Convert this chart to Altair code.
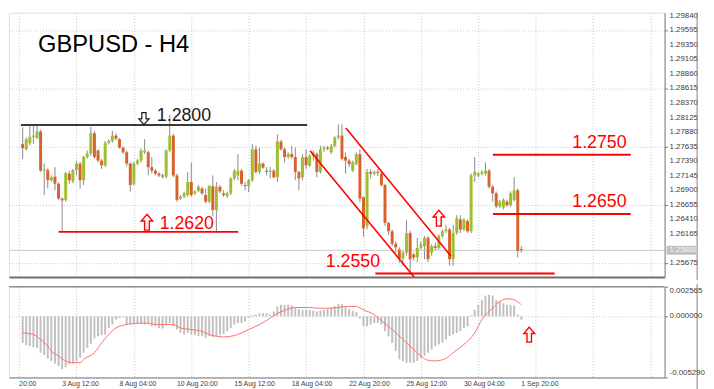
import altair as alt
import pandas as pd

# ---------------- data ----------------
opens = [1.2768, 1.2759, 1.2769, 1.2780, 1.2778, 1.2789, 1.2723, 1.2724, 1.2707, 1.2713,
         1.2701, 1.2676, 1.2674, 1.2718, 1.2705, 1.2724, 1.2735, 1.2707, 1.2746, 1.2752,
         1.2786, 1.2757, 1.2740, 1.2732, 1.2770, 1.2773, 1.2782, 1.2776, 1.2762, 1.2754,
         1.2735, 1.2701, 1.2735, 1.2740, 1.2754, 1.2754, 1.2729, 1.2723, 1.2718, 1.2715,
         1.2713, 1.2757, 1.2782, 1.2715, 1.2676, 1.2679, 1.2682, 1.2704, 1.2685, 1.2689,
         1.2693, 1.2682, 1.2671, 1.2697, 1.2657, 1.2696, 1.2685, 1.2680, 1.2685, 1.2710,
         1.2715, 1.2723, 1.2699, 1.2697, 1.2707, 1.2759, 1.2721, 1.2735, 1.2723, 1.2721,
         1.2723, 1.2712, 1.2772, 1.2759, 1.2746, 1.2751, 1.2746, 1.2721, 1.2712, 1.2746,
         1.2732, 1.2748, 1.2751, 1.2721, 1.2759, 1.2762, 1.2754, 1.2765, 1.2779, 1.2782,
         1.2746, 1.2740, 1.2723, 1.2734, 1.2751, 1.2678, 1.2630, 1.2721, 1.2718, 1.2721,
         1.2718, 1.2699, 1.2635, 1.2621, 1.2600, 1.2590, 1.2575, 1.2585, 1.2618, 1.2582,
         1.2577, 1.2593, 1.2596, 1.2610, 1.2585, 1.2596, 1.2593, 1.2613, 1.2621, 1.2624,
         1.2574, 1.2618, 1.2641, 1.2624, 1.2638, 1.2621, 1.2715, 1.2715, 1.2718, 1.2718,
         1.2723, 1.2696, 1.2685, 1.2663, 1.2661, 1.2671, 1.2665, 1.2674, 1.2690, 1.2591]
highs = [1.2796, 1.2779, 1.2798, 1.2801, 1.2801, 1.2792, 1.2735, 1.2727, 1.2715, 1.2729,
         1.2703, 1.2678, 1.2721, 1.2723, 1.2726, 1.2740, 1.2738, 1.2748, 1.2757, 1.2797,
         1.2790, 1.2759, 1.2743, 1.2773, 1.2776, 1.2790, 1.2786, 1.2778, 1.2764, 1.2757,
         1.2737, 1.2738, 1.2743, 1.2760, 1.2776, 1.2757, 1.2746, 1.2726, 1.2721, 1.2718,
         1.2759, 1.2817, 1.2785, 1.2718, 1.2682, 1.2688, 1.2721, 1.2737, 1.2690, 1.2699,
         1.2696, 1.2693, 1.2699, 1.2715, 1.2704, 1.2699, 1.2690, 1.2688, 1.2712, 1.2726,
         1.2751, 1.2726, 1.2704, 1.2709, 1.2768, 1.2765, 1.2762, 1.2737, 1.2729, 1.2729,
         1.2726, 1.2784, 1.2775, 1.2762, 1.2754, 1.2765, 1.2762, 1.2723, 1.2751, 1.2759,
         1.2751, 1.2757, 1.2754, 1.2765, 1.2765, 1.2765, 1.2768, 1.2781, 1.2801, 1.2801,
         1.2754, 1.2743, 1.2740, 1.2754, 1.2759, 1.2680, 1.2726, 1.2726, 1.2724, 1.2726,
         1.2723, 1.2701, 1.2637, 1.2624, 1.2604, 1.2594, 1.2588, 1.2640, 1.2622, 1.2585,
         1.2610, 1.2604, 1.2613, 1.2613, 1.2599, 1.2602, 1.2616, 1.2624, 1.2632, 1.2627,
         1.2632, 1.2648, 1.2648, 1.2643, 1.2641, 1.2718, 1.2746, 1.2721, 1.2724, 1.2737,
         1.2726, 1.2699, 1.2688, 1.2674, 1.2677, 1.2674, 1.2688, 1.2712, 1.2693, 1.2596]
lows = [1.2743, 1.2757, 1.2765, 1.2768, 1.2776, 1.2721, 1.2682, 1.2693, 1.2704, 1.2690,
        1.2674, 1.2621, 1.2671, 1.2701, 1.2702, 1.2715, 1.2693, 1.2699, 1.2743, 1.2748,
        1.2743, 1.2737, 1.2726, 1.2729, 1.2767, 1.2770, 1.2774, 1.2760, 1.2751, 1.2730,
        1.2688, 1.2698, 1.2732, 1.2737, 1.2751, 1.2715, 1.2718, 1.2715, 1.2712, 1.2710,
        1.2710, 1.2754, 1.2712, 1.2671, 1.2674, 1.2677, 1.2679, 1.2679, 1.2682, 1.2687,
        1.2682, 1.2668, 1.2668, 1.2646, 1.2618, 1.2685, 1.2679, 1.2677, 1.2682, 1.2707,
        1.2707, 1.2698, 1.2690, 1.2687, 1.2704, 1.2718, 1.2718, 1.2726, 1.2715, 1.2710,
        1.2710, 1.2704, 1.2757, 1.2737, 1.2743, 1.2743, 1.2707, 1.2690, 1.2707, 1.2726,
        1.2729, 1.2740, 1.2712, 1.2718, 1.2754, 1.2757, 1.2751, 1.2762, 1.2776, 1.2740,
        1.2718, 1.2729, 1.2721, 1.2732, 1.2670, 1.2612, 1.2624, 1.2710, 1.2715, 1.2714,
        1.2696, 1.2630, 1.2615, 1.2596, 1.2585, 1.2568, 1.2563, 1.2580, 1.2548, 1.2572,
        1.2569, 1.2590, 1.2574, 1.2569, 1.2580, 1.2588, 1.2590, 1.2610, 1.2618, 1.2563,
        1.2563, 1.2615, 1.2618, 1.2621, 1.2618, 1.2618, 1.2704, 1.2712, 1.2715, 1.2715,
        1.2693, 1.2671, 1.2660, 1.2660, 1.2658, 1.2662, 1.2662, 1.2671, 1.2577, 1.2585]
closes = [1.2761, 1.2776, 1.2780, 1.2782, 1.2789, 1.2723, 1.2725, 1.2707, 1.2712, 1.2701,
          1.2676, 1.2673, 1.2719, 1.2707, 1.2724, 1.2735, 1.2707, 1.2746, 1.2752, 1.2786,
          1.2746, 1.2740, 1.2732, 1.2770, 1.2773, 1.2782, 1.2777, 1.2762, 1.2754, 1.2735,
          1.2699, 1.2735, 1.2740, 1.2757, 1.2757, 1.2729, 1.2723, 1.2718, 1.2715, 1.2713,
          1.2757, 1.2782, 1.2715, 1.2674, 1.2679, 1.2685, 1.2704, 1.2682, 1.2688, 1.2696,
          1.2685, 1.2671, 1.2697, 1.2657, 1.2696, 1.2688, 1.2682, 1.2685, 1.2710, 1.2723,
          1.2723, 1.2701, 1.2697, 1.2707, 1.2759, 1.2721, 1.2735, 1.2728, 1.2721, 1.2723,
          1.2712, 1.2772, 1.2759, 1.2746, 1.2751, 1.2746, 1.2721, 1.2710, 1.2746, 1.2732,
          1.2748, 1.2754, 1.2721, 1.2759, 1.2762, 1.2760, 1.2765, 1.2779, 1.2782, 1.2743,
          1.2740, 1.2734, 1.2737, 1.2751, 1.2676, 1.2626, 1.2721, 1.2718, 1.2721, 1.2719,
          1.2699, 1.2635, 1.2621, 1.2600, 1.2594, 1.2575, 1.2585, 1.2618, 1.2574, 1.2577,
          1.2593, 1.2599, 1.2610, 1.2574, 1.2596, 1.2593, 1.2613, 1.2621, 1.2624, 1.2574,
          1.2618, 1.2643, 1.2624, 1.2641, 1.2621, 1.2715, 1.2721, 1.2718, 1.2721, 1.2723,
          1.2696, 1.2685, 1.2663, 1.2671, 1.2674, 1.2665, 1.2685, 1.2690, 1.2588, 1.2589]

macd_hist = [-0.00229, -0.00249, -0.00257, -0.00266, -0.00272, -0.00315, -0.00335, -0.00363, -0.00386, -0.00409,
             -0.00432, -0.00457, -0.00438, -0.00414, -0.00409, -0.00386, -0.00358, -0.00315, -0.00272, -0.00238,
             -0.00191, -0.00172, -0.00163, -0.00157, -0.00100, -0.00071, -0.00028, -0.00015, -0.00009, -0.00071,
             -0.00066, -0.00066, -0.00057, -0.00066, -0.00071, -0.00066, -0.00086, -0.00086, -0.00100, -0.00106,
             -0.00071, -0.00057, -0.00086, -0.00114, -0.00143, -0.00157, -0.00143, -0.00157, -0.00163, -0.00172,
             -0.00172, -0.00186, -0.00172, -0.00180, -0.00172, -0.00163, -0.00152, -0.00129, -0.00100, -0.00071,
             -0.00057, -0.00057, -0.00043, -0.00015, 0.00009, 0.00015, 0.00028, 0.00028, 0.00028, 0.00015,
             0.00043, 0.00086, 0.00100, 0.00100, 0.00100, 0.00094, 0.00077, 0.00063, 0.00057, 0.00057,
             0.00057, 0.00049, 0.00043, 0.00051, 0.00057, 0.00066, 0.00077, 0.00088, 0.00109, 0.00106,
             0.00086, 0.00066, 0.00049, 0.00037, -0.00017, -0.00086, -0.00086, -0.00071, -0.00057, -0.00057,
             -0.00071, -0.00129, -0.00172, -0.00229, -0.00300, -0.00372, -0.00386, -0.00401, -0.00401, -0.00401,
             -0.00386, -0.00358, -0.00343, -0.00315, -0.00286, -0.00257, -0.00243, -0.00229, -0.00200, -0.00172,
             -0.00157, -0.00143, -0.00129, -0.00100, -0.00086, 0.00009, 0.00057, 0.00100, 0.00143, 0.00180,
             0.00186, 0.00180, 0.00143, 0.00129, 0.00114, 0.00100, 0.00100, 0.00094, 0.00015, -0.00028]

signal_idx = [0, 3, 5, 7, 8, 10, 12, 14, 16, 17, 20, 22, 24, 26, 28, 31, 34, 36, 39, 42,
              44, 47, 50, 52, 54, 56, 59, 61, 63, 66, 69, 71, 73, 76, 80, 82, 85, 88, 90, 93,
              95, 98, 100, 103, 106, 109, 111, 113, 115, 118, 120, 123, 126, 128, 131, 133, 135, 137, 139]
signal_val = [-0.00143, -0.00157, -0.00200, -0.00257, -0.00300, -0.00343, -0.00386, -0.00401, -0.00401, -0.00372,
              -0.00315, -0.00229, -0.00157, -0.00100, -0.00077, -0.00063, -0.00057, -0.00066, -0.00071, -0.00071,
              -0.00100, -0.00114, -0.00129, -0.00157, -0.00172, -0.00178, -0.00166, -0.00143, -0.00114, -0.00071,
              -0.00015, 0.00026, 0.00051, 0.00077, 0.00077, 0.00071, 0.00071, 0.00077, 0.00086, 0.00086,
              0.00057, 0.00015, -0.00037, -0.00114, -0.00200, -0.00286, -0.00343, -0.00380, -0.00386, -0.00363,
              -0.00315, -0.00243, -0.00143, -0.00028, 0.00071, 0.00129, 0.00152, 0.00143, 0.00100]

price_ticks = [1.25675, 1.25920, 1.26165, 1.26410, 1.26655, 1.26900, 1.27145, 1.27390, 1.27635,
               1.27880, 1.28125, 1.28370, 1.28615, 1.28860, 1.29105, 1.29350, 1.29595, 1.29840]
macd_ticks = [-0.005290, 0.0, 0.002565]
macd_tick_text = ["-0.005290", "0.000000", "0.002565"]
time_label_idx = [-1, 11, 27, 43, 59, 75, 91, 107, 123, 139]
time_labels = ["20:00", "3 Aug 12:00", "8 Aug 04:00", "10 Aug 20:00", "15 Aug 12:00",
               "18 Aug 04:00", "22 Aug 20:00", "25 Aug 12:00", "30 Aug 04:00", "1 Sep 20:00"]
bid_text = "1.25888"

# annotation levels: price, first bar, last bar
black_level_price = [1.2800]
black_level_from = [-0.5]
black_level_to = [79.3]
red_level_price = [1.2620, 1.2550, 1.2750, 1.2650]
red_level_from = [10.0, 98.3, 131.1, 131.1]
red_level_to = [60.1, 148.3, 169.5, 169.5]

# channel lines (bar index, price) -> (bar index, price)
chan_i1 = [90.1, 80.1]
chan_p1 = [1.27948, 1.27567]
chan_i2 = [119.4, 109.1]
chan_p2 = [1.25791, 1.25442]

title_text = ["GBPUSD - H4"]
title_i = [4.3]
title_p = [1.29226]
black_label_text = ["1.2800"]
black_label_i = [37.4]
black_label_p = [1.28064]
red_label_text = ["1.2620", "1.2550", "1.2750", "1.2650"]
red_label_i = [38.2, 84.5, 153.2, 153.2]
red_label_p = [1.26251, 1.25603, 1.27608, 1.26612]

down_arrow_i = [33.8]
down_arrow_p = [1.28106]
up_arrow_i = [34.65, 116.0]
up_arrow_p = [1.26363, 1.26430]
macd_arrow_i = [141.2]
macd_arrow_v = [-0.00158]

# ---------------- chart ----------------
W, H_MAIN, H_MACD = 665, 268, 92
FONT = "Liberation Sans"
GRID = "#c4c4c4"
AXIS = "#808080"
TXT = "#404040"
UP_COL, DOWN_COL = "#9dbf2e", "#d8622a"
RED = "#ff0000"

x_scale = alt.Scale(domain=[-2.44, 177.56], nice=False, zero=False)
y_scale = alt.Scale(domain=[1.25442, 1.29890], nice=False, zero=False)
m_scale = alt.Scale(domain=[-0.005290, 0.002565], nice=False, zero=False)
grid_vals = list(range(-1, 178, 4))

df = pd.DataFrame({"i": list(range(len(opens))), "open": opens, "high": highs,
                   "low": lows, "close": closes})
df["dir"] = ["up" if c >= o else "down" for o, c in zip(opens, closes)]

x_axis_main = alt.Axis(values=grid_vals, labels=False, ticks=False, grid=True,
                       gridColor=GRID, gridDash=[1, 2], domainColor="#707070",
                       domainWidth=2, title=None)
y_axis_main = alt.Axis(orient="right", values=price_ticks, labels=False, grid=True,
                       gridColor=GRID, gridDash=[1, 2], domainColor=AXIS, tickColor=AXIS,
                       tickSize=3, title=None)

base = alt.Chart(df)
wicks = base.mark_rule(color="#8a8a8a", strokeWidth=1).encode(
    x=alt.X("i:Q", scale=x_scale, axis=x_axis_main),
    y=alt.Y("low:Q", scale=y_scale, axis=y_axis_main),
    y2="high:Q",
)
bodies = base.mark_bar(size=3).encode(
    x="i:Q", y="open:Q", y2="close:Q",
    color=alt.Color("dir:N", scale=alt.Scale(domain=["up", "down"], range=[UP_COL, DOWN_COL]),
                    legend=None),
)

last_close = closes[-1]
# the price label hidden behind the current-price box is not drawn
shown_ticks = [v for v in price_ticks if abs(v - last_close) > 0.001]
price_lbl = alt.Chart(pd.DataFrame({"p": shown_ticks, "t": [f"{v:.5f}" for v in shown_ticks]})).mark_text(
    font=FONT, fontSize=8, color=TXT, align="left", baseline="middle").encode(
    y="p:Q", x=alt.value(W + 5), text="t:N")

bid_line = alt.Chart(pd.DataFrame({"p": [last_close]})).mark_rule(
    color="#c8c8c8", strokeWidth=1).encode(y="p:Q", x=alt.value(0), x2=alt.value(W))
bid_box = alt.Chart(pd.DataFrame({"p": [last_close + 0.00075], "p2": [last_close - 0.00075]})).mark_rect(
    color="#c0c0c0").encode(y="p:Q", y2="p2:Q", x=alt.value(W + 2), x2=alt.value(697))
bid_txt = alt.Chart(pd.DataFrame({"p": [last_close], "t": [bid_text]})).mark_text(
    font=FONT, fontSize=8, color="#f4f4f4", align="left", baseline="middle").encode(
    y="p:Q", x=alt.value(W + 5), text="t:N")

black_levels = alt.Chart(pd.DataFrame({"p": black_level_price, "a": black_level_from,
                                       "b": black_level_to})).mark_rule(
    strokeWidth=2, color="#3a3a3a").encode(x="a:Q", x2="b:Q", y="p:Q")
red_levels = alt.Chart(pd.DataFrame({"p": red_level_price, "a": red_level_from,
                                     "b": red_level_to})).mark_rule(
    strokeWidth=2, color=RED).encode(x="a:Q", x2="b:Q", y="p:Q")
channel = alt.Chart(pd.DataFrame({"i1": chan_i1, "p1": chan_p1, "i2": chan_i2, "p2": chan_p2})).mark_rule(
    color=RED, strokeWidth=1.6).encode(x="i1:Q", y="p1:Q", x2="i2:Q", y2="p2:Q")

title_txt = alt.Chart(pd.DataFrame({"i": title_i, "p": title_p, "t": title_text})).mark_text(
    font=FONT, fontSize=24, color="#000000", align="left", baseline="alphabetic").encode(
    x="i:Q", y="p:Q", text="t:N")
black_txt = alt.Chart(pd.DataFrame({"i": black_label_i, "p": black_label_p, "t": black_label_text})).mark_text(
    font=FONT, fontSize=18, color="#1a1a1a", align="left", baseline="alphabetic").encode(
    x="i:Q", y="p:Q", text="t:N")
red_txt = alt.Chart(pd.DataFrame({"i": red_label_i, "p": red_label_p, "t": red_label_text})).mark_text(
    font=FONT, fontSize=18, color=RED, align="left", baseline="alphabetic").encode(
    x="i:Q", y="p:Q", text="t:N")

UP_PATH = "M0,-1 L0.72,-0.15 L0.3,-0.15 L0.3,1 L-0.3,1 L-0.3,-0.15 L-0.72,-0.15 Z"
DOWN_PATH = "M0,1 L0.85,0.05 L0.35,0.05 L0.35,-1 L-0.35,-1 L-0.35,0.05 L-0.85,0.05 Z"
down_arrow = alt.Chart(pd.DataFrame({"i": down_arrow_i, "p": down_arrow_p})).mark_point(
    shape=DOWN_PATH, size=150, filled=True, fill="#ffffff", stroke="#1a1a1a", strokeWidth=1.2,
    opacity=1).encode(x="i:Q", y="p:Q")
up_arrows = alt.Chart(pd.DataFrame({"i": up_arrow_i, "p": up_arrow_p})).mark_point(
    shape=UP_PATH, size=260, filled=True, fill="#ffffff", stroke=RED, strokeWidth=1.4,
    opacity=1).encode(x="i:Q", y="p:Q")

border_main = alt.Chart(pd.DataFrame({"k": [0]})).mark_rule(color=AXIS, strokeWidth=1).encode(
    x=alt.value(698), y=alt.value(0), y2=alt.value(H_MAIN + 3))

main = alt.layer(
    wicks, bid_line, bodies, black_levels, red_levels, channel, title_txt, black_txt, red_txt,
    down_arrow, up_arrows, price_lbl, bid_box, bid_txt, border_main
).properties(width=W, height=H_MAIN)

# ---------------- MACD panel ----------------
x_axis_macd = alt.Axis(values=grid_vals, labels=False, ticks=False, grid=True,
                       gridColor=GRID, gridDash=[1, 2], domainColor=AXIS, title=None)
y_axis_macd = alt.Axis(orient="right", values=macd_ticks, labels=False, grid=True,
                       gridColor=GRID, gridDash=[1, 2], domainColor=AXIS,
                       tickColor=AXIS, tickSize=3, title=None)

mdf = pd.DataFrame({"i": list(range(len(macd_hist))), "h": macd_hist})
hist = alt.Chart(mdf).mark_bar(size=2, color="#c0c0c0").encode(
    x=alt.X("i:Q", scale=x_scale, axis=x_axis_macd),
    y=alt.Y("h:Q", scale=m_scale, axis=y_axis_macd),
    y2=alt.datum(0),
)
signal = alt.Chart(pd.DataFrame({"i": signal_idx, "s": signal_val})).mark_line(
    color="#ff6f6f", strokeWidth=1, interpolate="monotone").encode(x="i:Q", y="s:Q")
macd_arrow = alt.Chart(pd.DataFrame({"i": macd_arrow_i, "v": macd_arrow_v})).mark_point(
    shape=UP_PATH, size=230, filled=True, fill="#ffffff", stroke=RED, strokeWidth=1.4,
    opacity=1).encode(x="i:Q", y="v:Q")
top_rule = alt.Chart(pd.DataFrame({"k": [0]})).mark_rule(color="#707070", strokeWidth=1).encode(
    y=alt.value(0), x=alt.value(0), x2=alt.value(W))
border_macd = alt.Chart(pd.DataFrame({"k": [0]})).mark_rule(color=AXIS, strokeWidth=1).encode(
    x=alt.value(698), y=alt.value(-3), y2=alt.value(104))

macd_lbl_layers = []
for v, t, bl in zip(macd_ticks, macd_tick_text, ["bottom", "middle", "top"]):
    macd_lbl_layers.append(
        alt.Chart(pd.DataFrame({"v": [v], "t": [t]})).mark_text(
            font=FONT, fontSize=8, color=TXT, align="left", baseline=bl).encode(
            y="v:Q", x=alt.value(W + 5), text="t:N"))

time_lbl = alt.Chart(pd.DataFrame({"i": time_label_idx, "t": time_labels})).mark_text(
    font=FONT, fontSize=7, color=TXT, align="left", baseline="top").encode(
    x="i:Q", y=alt.value(H_MACD + 3), text="t:N")

macd = alt.layer(hist, signal, macd_arrow, top_rule, border_macd, time_lbl,
                 *macd_lbl_layers).properties(width=W, height=H_MACD)

chart = alt.vconcat(main, macd, spacing=2, padding=0).configure_view(stroke=None).configure(
    background="#ffffff")

chart.save("out.html", embed_options={"renderer": "svg", "actions": False})
